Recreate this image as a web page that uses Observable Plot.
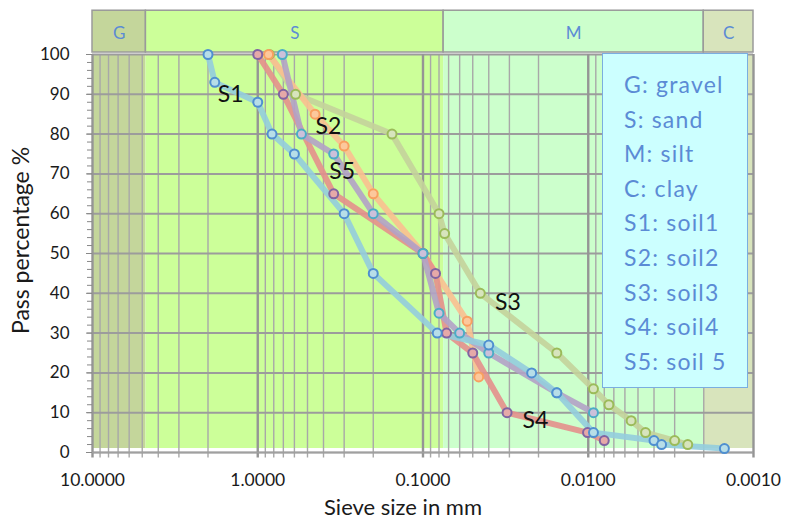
<!DOCTYPE html>
<html>
<head>
<meta charset="utf-8">
<script src="https://cdn.jsdelivr.net/npm/d3@7"></script>
<script src="https://cdn.jsdelivr.net/npm/@observablehq/plot@0.6"></script>
<style>
  html, body { margin: 0; padding: 0; background: #fff; }
  #wrap { position: relative; width: 785px; height: 519px; font-family: Lato, "Open Sans", sans-serif; }
  #wrap svg { display: block; }
  #legend {
    position: absolute; left: 602px; top: 53px; width: 146px; height: 335px;
    background: #ccffff; border: 1.5px solid #7aaee0;
    padding: 13px 0 0 21px; box-sizing: border-box;
    color: #5b8bd5; font-size: 23px; line-height: 34.6px; letter-spacing: 1.2px;
    font-family: Lato, sans-serif; white-space: nowrap;
  }
</style>
</head>
<body>
<div id="wrap"><div id="legend"></div></div>
<script>
// ---------- data ----------
const zoneNames  = ["G", "S", "M", "C"];
const zoneFrom   = [10, 4.75, 0.075, 0.002];
const zoneTo     = [4.75, 0.075, 0.002, 0.001];
const zoneColors = ["#c4d69b", "#ccff99", "#ccffcc", "#d8e4bc"];

const legendLines = ["G: gravel", "S: sand", "M: silt", "C: clay",
  "S1: soil1", "S2: soil2", "S3: soil3", "S4: soil4", "S5: soil 5"];

const xTickValues = [10, 1, 0.1, 0.01, 0.001];
const xTickLabels = ["10.0000", "1.0000", "0.1000", "0.0100", "0.0010"];
const yTickValues = [0, 10, 20, 30, 40, 50, 60, 70, 80, 90, 100];

const seriesNames = ["S1", "S2", "S3", "S4", "S5"];
const s1Size = [2.0, 1.82, 1.0, 0.82, 0.6, 0.3, 0.2, 0.082, 0.04, 0.022, 0.0155, 0.0093, 0.004, 0.0036, 0.0015];
const s1Pass = [100, 93, 88, 80, 75, 60, 45, 30, 27, 20, 15, 5, 3, 2, 1];
const s2Size = [0.86, 0.45, 0.3, 0.2, 0.1, 0.054, 0.046];
const s2Pass = [100, 85, 77, 65, 50, 33, 19];
const s3Size = [0.85, 0.59, 0.154, 0.08, 0.074, 0.045, 0.0155, 0.0093, 0.0075, 0.0055, 0.0045, 0.003, 0.0025];
const s3Pass = [100, 90, 80, 60, 55, 40, 25, 16, 12, 8, 5, 3, 2];
const s4Size = [1.0, 0.7, 0.347, 0.1, 0.084, 0.072, 0.05, 0.031, 0.0101, 0.008];
const s4Pass = [100, 90, 65, 50, 45, 30, 25, 10, 5, 3];
const s5Size = [0.71, 0.544, 0.347, 0.2, 0.1, 0.08, 0.06, 0.04, 0.0155, 0.0093];
const s5Pass = [100, 80, 75, 60, 50, 35, 30, 25, 15, 10];

const labelNames = ["S1", "S2", "S5", "S3", "S4"];
const labelSize  = [1.46, 0.373, 0.308, 0.0306, 0.0209];
const labelPass  = [90, 82, 70.5, 37.7, 8];

const lineColors   = {S1: "#93cddd", S2: "#fac090", S3: "#c4d39b", S4: "#e4908c", S5: "#b3a2c7"};
const markerStroke = {S1: "#4f8fd0", S2: "#f8a060", S3: "#9bbb59", S4: "#8064a2", S5: "#4bacc6"};
const markerFill   = {S1: "#b7dee8", S2: "#fcc89c", S3: "#d7e4bd", S4: "#e6a9a8", S5: "#ccc0da"};

// ---------- build tables ----------
const sizes = {S1: s1Size, S2: s2Size, S3: s3Size, S4: s4Size, S5: s5Size};
const passes = {S1: s1Pass, S2: s2Pass, S3: s3Pass, S4: s4Pass, S5: s5Pass};
const drawOrder = ["S3", "S2", "S4", "S5", "S1"];
const rows = drawOrder.flatMap(s => sizes[s].map((v, i) => ({series: s, size: v, pass: passes[s][i]})));
const zones = zoneNames.map((n, i) => ({name: n, from: zoneFrom[i], to: zoneTo[i], color: zoneColors[i]}));
const labels = labelNames.map((n, i) => ({name: n, size: labelSize[i], pass: labelPass[i]}));

const minorGrid = [];
for (let k = -3; k <= 0; k++) for (let m = 2; m <= 9; m++) minorGrid.push(+(m * 10 ** k).toPrecision(3));
const majorGrid = xTickValues;

const marks = [
  // shaded zones in plot area
  Plot.rect(zones, {x1: "from", x2: "to", y1: 1, y2: 100, fill: "color"}),
  // top band
  Plot.rect(zones, {x1: "from", x2: "to", y1: 100.5, y2: 111, fill: "color", stroke: "#9a9a9a", strokeWidth: 1.5}),
  Plot.text(zones, {x: d => Math.sqrt(d.from * d.to), y: 105.3, text: "name", fill: "#5b8bd5", fontSize: 17}),
  // grid
  Plot.ruleX(minorGrid, {y1: -1.4, y2: 100, stroke: "#a8a8a8", strokeWidth: 1.4}),
  Plot.ruleY(yTickValues, {stroke: "#9c9c9c", strokeWidth: 2}),
  Plot.ruleX(majorGrid, {y1: -1.4, y2: 100, stroke: "#959595", strokeWidth: 2.4}),
  Plot.ruleY([0], {stroke: "#a0a0a0", strokeWidth: 1.5}),
  // axes
  Plot.axisY({ticks: d3.range(0, 101, 2), tickSize: 5, tickFormat: () => "", stroke: "#888", label: null}),
  Plot.axisY({ticks: yTickValues, tickSize: 6, tickPadding: 17, fontSize: 17, fill: "#1a1a1a", stroke: "#888", label: null}),
  Plot.axisX({ticks: xTickValues, tickSize: 0, tickPadding: 21,
    tickFormat: d => xTickLabels[xTickValues.indexOf(d)], fontSize: 17.5, fill: "#1a1a1a", label: null}),
  // series
  Plot.line(rows, {x: "size", y: "pass", z: "series", stroke: d => lineColors[d.series],
    strokeWidth: 6, strokeOpacity: 0.9, curve: "linear"}),
  Plot.dot(rows, {x: "size", y: "pass", r: 4.5, stroke: d => markerStroke[d.series],
    fill: d => markerFill[d.series], strokeWidth: 2}),
  // series labels
  Plot.text(labels, {x: "size", y: "pass", text: "name", fontSize: 23, fill: "#111", ariaLabel: "spaced"}),
  // axis titles
  Plot.text(["Sieve size in mm"], {frameAnchor: "bottom", lineAnchor: "middle", textAnchor: "middle",
    dy: 55, dx: -20, fontSize: 22, fill: "#1a1a1a", ariaLabel: "spaced"}),
  Plot.text(["Pass percentage %"], {frameAnchor: "left", lineAnchor: "middle", textAnchor: "middle",
    rotate: -90, dx: -71, dy: -13, fontSize: 23, fill: "#1a1a1a", ariaLabel: "spaced"})
];

const chart = Plot.plot({
  width: 785, height: 519,
  marginLeft: 92, marginRight: 32, marginTop: 54, marginBottom: 67,
  style: {fontFamily: "Lato, sans-serif", background: "#fff", overflow: "visible"},
  x: {type: "log", domain: [10, 0.001], axis: null},
  y: {domain: [0, 100], axis: null},
  marks
});
chart.querySelectorAll('g[aria-label="spaced"] text').forEach(t => t.setAttribute("letter-spacing", "1.3"));
const wrap = document.getElementById("wrap");
wrap.insertBefore(chart, wrap.firstChild);

const legend = document.getElementById("legend");
legendLines.forEach(s => { const d = document.createElement("div"); d.textContent = s; legend.appendChild(d); });
</script>
</body>
</html>
